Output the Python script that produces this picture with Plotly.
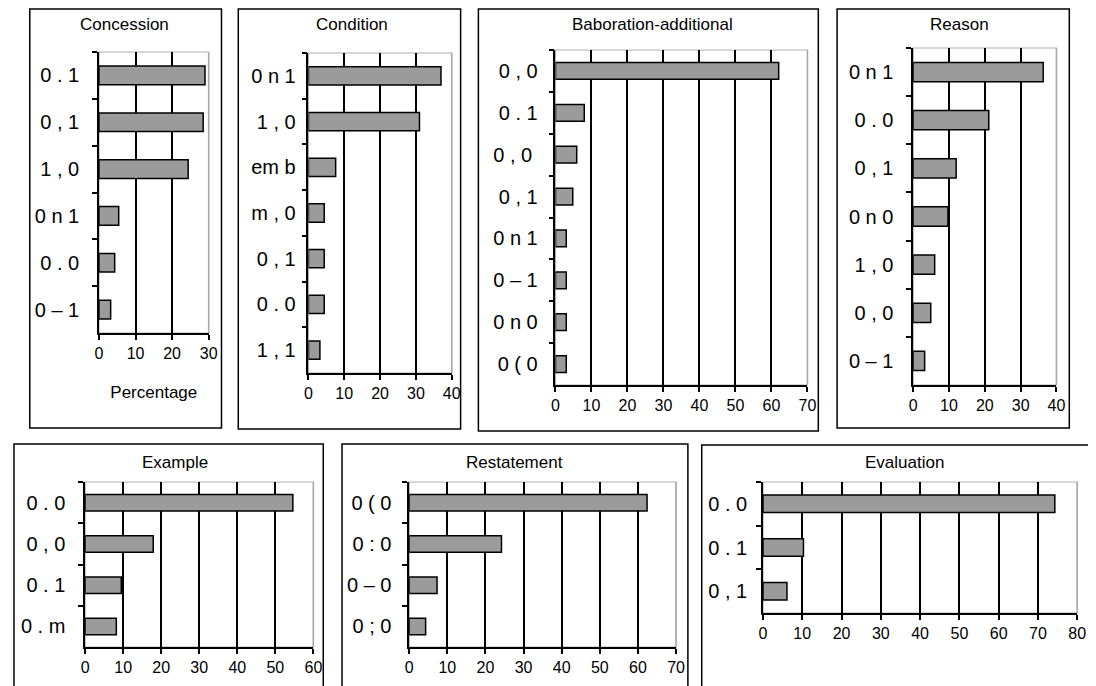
import plotly.graph_objects as go

W, H = 1096, 686
OFF = 8  # page body margin in the browser

# ---- data (top-to-bottom order) ----
concession_labels = ["0 . 1", "0 , 1", "1 , 0", "0 n 1", "0 . 0", "0 – 1"]
concession_values = [29.0, 28.5, 24.4, 5.4, 4.3, 3.2]

condition_labels = ["0 n 1", "1 , 0", "em b", "m , 0", "0 , 1", "0 . 0", "1 , 1"]
condition_values = [37.0, 31.0, 7.6, 4.4, 4.4, 4.4, 3.2]

elaboration_labels = ["0 , 0", "0 . 1", "0 , 0 ", "0 , 1", "0 n 1", "0 – 1", "0 n 0", "0 ( 0"]
elaboration_values = [62.0, 8.0, 5.9, 4.8, 3.0, 3.0, 3.0, 3.0]

reason_labels = ["0 n 1", "0 . 0", "0 , 1", "0 n 0", "1 , 0", "0 , 0", "0 – 1"]
reason_values = [36.3, 21.1, 12.0, 9.7, 6.0, 4.9, 3.2]

example_labels = ["0 . 0", "0 , 0", "0 . 1", "0 . m"]
example_values = [54.6, 17.9, 9.5, 8.2]

restatement_labels = ["0 ( 0", "0 : 0", "0 – 0", "0 ; 0"]
restatement_values = [62.4, 24.2, 7.3, 4.3]

evaluation_labels = ["0 . 0", "0 . 1", "0 , 1"]
evaluation_values = [74.3, 10.3, 6.1]

titles = ["Concession", "Condition", "Baboration-additional", "Reason",
          "Example", "Restatement", "Evaluation"]
x_max = [30, 40, 70, 40, 60, 70, 80]

panels = [
    (concession_labels, concession_values),
    (condition_labels, condition_values),
    (elaboration_labels, elaboration_values),
    (reason_labels, reason_values),
    (example_labels, example_values),
    (restatement_labels, restatement_values),
    (evaluation_labels, evaluation_values),
]

# ---- layout geometry (screen pixels) ----
plot_px = [  # x0, x1, y0(top), y1(bottom)
    (96, 207, 52, 333),
    (308, 453, 53, 373),
    (558, 813, 50, 385),
    (920, 1065, 48, 385),
    (82, 313, 482, 647),
    (410, 680, 482, 647),
    (768, 1086, 482, 613),
]
box_px = [
    (26, 220, 7, 428),
    (237, 462, 7, 429),
    (480, 824, 8, 431),
    (843, 1078, 8, 428),
    (10, 323, 444, 700),
    (342, 692, 444, 700),
    (706, 1110, 445, 700),
]
label_gap = [14, 7, 12, 14, 14, 12, 10]
title_pos = [(122, 25), (352, 25), (656, 24), (967, 25), (173, 462), (517, 462), (911, 462)]


def fx(x):
    return (x - OFF) / W


def fy(y):
    return 1 - (y - OFF) / H


FONT = "Liberation Sans, Arial, sans-serif"
fig = go.Figure()
layout = dict(width=W, height=H, margin=dict(l=0, r=0, t=0, b=0),
              paper_bgcolor="white", plot_bgcolor="white", showlegend=False,
              font=dict(family=FONT, color="black"))
shapes = []
annotations = []

for i, ((labels, vals), (x0, x1, y0, y1)) in enumerate(zip(panels, plot_px)):
    n = i + 1
    xa = "x" if n == 1 else f"x{n}"
    ya = "y" if n == 1 else f"y{n}"
    fig.add_trace(go.Bar(
        x=vals, y=labels, orientation="h", xaxis=xa, yaxis=ya,
        width=0.4, marker=dict(color="#9b9b9b", line=dict(color="black", width=1.5)),
        hoverinfo="x+y"))
    xkey = "xaxis" if n == 1 else f"xaxis{n}"
    ykey = "yaxis" if n == 1 else f"yaxis{n}"
    layout[xkey] = dict(
        domain=[fx(x0), fx(x1)], anchor=ya, range=[0, x_max[i]], dtick=10,
        showgrid=True, gridcolor="black", gridwidth=1.5, zeroline=False,
        showline=True, linecolor="black", linewidth=1.5,
        ticks="outside", ticklen=5, tickcolor="black", tickwidth=1.5,
        tickfont=dict(size=16, family=FONT), fixedrange=True,
    )
    if i == 0:
        layout[xkey]["title"] = dict(text="Percentage", font=dict(size=17, family=FONT), standoff=25)
    layout[ykey] = dict(
        domain=[fy(y1), fy(y0)], anchor=xa, type="category",
        autorange="reversed", showgrid=False, zeroline=False,
        showline=True, linecolor="black", linewidth=1.5,
        ticks="outside", ticklen=5, tickcolor="black", tickwidth=1.5,
        tickson="boundaries", ticklabelstandoff=label_gap[i],
        tickfont=dict(size=20, family=FONT), fixedrange=True,
    )
    # plot-area border (light grey top/right)
    shapes.append(dict(type="rect", xref=f"{xa} domain", yref=f"{ya} domain",
                       x0=0, x1=1, y0=0, y1=1, line=dict(color="#b0b0b0", width=1.2),
                       layer="below"))
    shapes.append(dict(type="line", xref=f"{xa} domain", yref=f"{ya} domain",
                       x0=1, x1=1, y0=0, y1=1, line=dict(color="#a8a8a8", width=1.5)))
    # outer frame
    bx0, bx1, by0, by1 = box_px[i]
    by0 = max(by0, OFF + 1)
    shapes.append(dict(type="rect", xref="paper", yref="paper",
                       x0=fx(bx0), x1=fx(bx1), y0=fy(by1), y1=fy(by0),
                       line=dict(color="black", width=1.5), layer="below"))
    tx, ty = title_pos[i]
    annotations.append(dict(text=titles[i], x=fx(tx), y=fy(ty), xref="paper", yref="paper",
                            showarrow=False, xanchor="center", yanchor="middle",
                            font=dict(size=17, family=FONT)))

layout["shapes"] = shapes
layout["annotations"] = annotations
fig.update_layout(**layout)
fig.write_html("out.html")
